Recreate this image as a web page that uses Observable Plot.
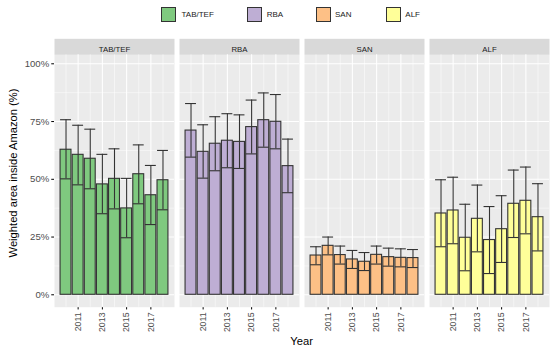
<!DOCTYPE html>
<html>
<head>
<meta charset="utf-8">
<script src="https://cdn.jsdelivr.net/npm/d3@7"></script>
<script src="https://cdn.jsdelivr.net/npm/@observablehq/plot@0.6"></script>
<style>
  body { margin: 0; background: #fff; font-family: "Liberation Sans", Arial, sans-serif; }
  #wrap { position: relative; width: 550px; height: 349px; }
  #legend { position: relative; width: 550px; height: 30px; }
  .sw { position: absolute; top: 7px; width: 15px; height: 15px; box-sizing: border-box; border: 1px solid #333; }
  .lt { position: absolute; top: 8px; font-size: 8px; line-height: 13px; color: #1a1a1a; }
  .title { position: absolute; font-size: 11.2px; color: #000; white-space: nowrap; }
  g[aria-label="y-axis tick label"] text { font-size: 9.6px; }
  g[aria-label="x-axis tick label"] text { font-size: 8.8px; }
  g[aria-label="y-axis tick label"], g[aria-label="x-axis tick label"] { fill: #4d4d4d; }
  g[aria-label="y-axis tick"], g[aria-label="x-axis tick"] { stroke: #333; }
</style>
</head>
<body>
<div id="wrap">
  <div id="legend"></div>
  <div id="chart"></div>
  <div class="title" id="ytitle" style="left:13px; top:172.5px; transform: translate(-50%,-50%) rotate(-90deg);">Weighted area inside Amazon (%)</div>
  <div class="title" id="xtitle" style="left:301.6px; top:341px; transform: translate(-50%,-50%);">Year</div>
</div>
<script>
const groups = ["TAB/TEF", "RBA", "SAN", "ALF"];
const colors = ["#7fc97f", "#beaed4", "#fdc086", "#ffff99"];
const years = [2010, 2011, 2012, 2013, 2014, 2015, 2016, 2017, 2018];
const xTicks = [2011, 2013, 2015, 2017];
const yTicks = [0, 0.25, 0.5, 0.75, 1];

const tabValue = [0.628, 0.606, 0.589, 0.478, 0.502, 0.374, 0.522, 0.431, 0.496];
const tabLower = [0.502, 0.476, 0.459, 0.351, 0.372, 0.247, 0.394, 0.304, 0.368];
const tabUpper = [0.758, 0.734, 0.717, 0.608, 0.632, 0.504, 0.649, 0.560, 0.625];

const rbaValue = [0.711, 0.619, 0.654, 0.667, 0.662, 0.726, 0.756, 0.749, 0.557];
const rbaLower = [0.596, 0.505, 0.537, 0.550, 0.547, 0.610, 0.639, 0.632, 0.442];
const rbaUpper = [0.828, 0.736, 0.771, 0.784, 0.779, 0.843, 0.874, 0.867, 0.674];

const sanValue = [0.170, 0.212, 0.172, 0.153, 0.143, 0.173, 0.163, 0.160, 0.159];
const sanLower = [0.130, 0.173, 0.133, 0.114, 0.105, 0.133, 0.124, 0.121, 0.118];
const sanUpper = [0.208, 0.250, 0.211, 0.192, 0.183, 0.211, 0.202, 0.199, 0.196];

const alfValue = [0.352, 0.365, 0.247, 0.329, 0.237, 0.284, 0.394, 0.407, 0.336];
const alfLower = [0.208, 0.221, 0.104, 0.186, 0.092, 0.140, 0.248, 0.264, 0.190];
const alfUpper = [0.498, 0.509, 0.392, 0.475, 0.382, 0.429, 0.540, 0.553, 0.481];

const series = [
  [tabValue, tabLower, tabUpper],
  [rbaValue, rbaLower, rbaUpper],
  [sanValue, sanLower, sanUpper],
  [alfValue, alfLower, alfUpper]
];
const data = [];
groups.forEach((g, gi) => {
  years.forEach((yr, i) => {
    data.push({group: g, year: yr, value: series[gi][0][i], lo: series[gi][1][i], hi: series[gi][2][i]});
  });
});

// legend
const legend = document.getElementById("legend");
const swX = [161, 247, 315.6, 385.8];
const txX = [181.5, 266.7, 335, 405.3];
groups.forEach((g, i) => {
  const s = document.createElement("div");
  s.className = "sw"; s.style.left = swX[i] + "px"; s.style.background = colors[i];
  legend.appendChild(s);
  const t = document.createElement("div");
  t.className = "lt"; t.style.left = txX[i] + "px"; t.textContent = g;
  legend.appendChild(t);
});

const hw = 0.45;
const minorX = [2010, 2012, 2014, 2016, 2018];
const minorY = [0.125, 0.375, 0.625, 0.875];

const chart = Plot.plot({
  width: 550,
  height: 319,
  marginTop: 24.3,
  marginBottom: 42.3,
  marginLeft: 54.2,
  marginRight: 1,
  style: {fontFamily: '"Liberation Sans", Arial, sans-serif', background: "transparent"},
  fx: {domain: groups, paddingInner: 0.0437, paddingOuter: 0, axis: null, label: null},
  x: {domain: [2009.05, 2018.95], ticks: xTicks, tickFormat: d => String(d), tickRotate: -90, tickSize: 2.75, tickPadding: 2.5, label: null},
  y: {domain: [-0.0537, 1.039], ticks: yTicks, tickFormat: d3.format(".0%"), tickSize: 2.75, tickPadding: 2.5, label: null},
  color: {domain: groups, range: colors},
  marks: [
    Plot.frame({fill: "#ebebeb"}),
    Plot.frame({fill: "#d9d9d9", insetTop: -16, insetBottom: 252.4}),
    Plot.text(groups, {fx: d => d, text: d => d, frameAnchor: "top", dy: -8, fontSize: 7.8, fill: "#1a1a1a"}),
    Plot.gridY(minorY, {stroke: "#fff", strokeOpacity: 1, strokeWidth: 0.5}),
    Plot.gridX(minorX, {stroke: "#fff", strokeOpacity: 1, strokeWidth: 0.5}),
    Plot.gridY(yTicks, {stroke: "#fff", strokeOpacity: 1, strokeWidth: 1.05}),
    Plot.gridX(xTicks, {stroke: "#fff", strokeOpacity: 1, strokeWidth: 1.05}),
    Plot.rect(data, {fx: "group", x1: d => d.year - hw, x2: d => d.year + hw, y1: 0, y2: "value", fill: "group", stroke: "#333", strokeWidth: 1.1}),
    Plot.ruleX(data, {fx: "group", x: "year", y1: "lo", y2: "hi", stroke: "#333", strokeWidth: 1.1}),
    Plot.ruleY(data, {fx: "group", y: "hi", x1: d => d.year - hw, x2: d => d.year + hw, stroke: "#333", strokeWidth: 1.1}),
    Plot.ruleY(data, {fx: "group", y: "lo", x1: d => d.year - hw, x2: d => d.year + hw, stroke: "#333", strokeWidth: 1.1})
  ]
});
document.getElementById("chart").appendChild(chart);
</script>
</body>
</html>
